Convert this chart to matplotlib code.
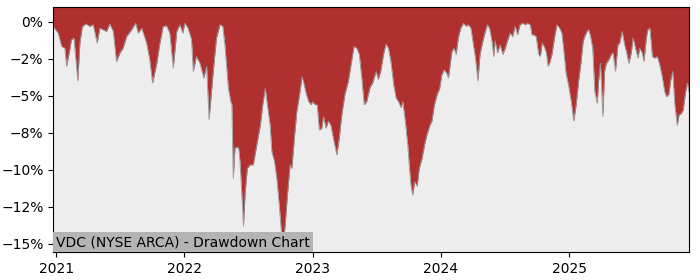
import pandas as pd
import matplotlib
matplotlib.use("Agg")
import matplotlib.pyplot as plt
import matplotlib.dates as mdates
from matplotlib.ticker import PercentFormatter, MultipleLocator

# drawdown (%)
dates = [
    "2020-12-23", "2020-12-26", "2021-01-06", "2021-01-16", "2021-01-25", "2021-01-30",
    "2021-02-08", "2021-02-13", "2021-02-20", "2021-02-25", "2021-03-03", "2021-03-09",
    "2021-03-16", "2021-03-26", "2021-04-06", "2021-04-16", "2021-04-27", "2021-05-05",
    "2021-05-14", "2021-05-24", "2021-06-02", "2021-06-12", "2021-06-21", "2021-07-01",
    "2021-07-10", "2021-07-20", "2021-08-03", "2021-08-15", "2021-08-22", "2021-09-01",
    "2021-09-15", "2021-09-24", "2021-10-02", "2021-10-14", "2021-10-23", "2021-11-01",
    "2021-11-11", "2021-11-20", "2021-11-30", "2021-12-10", "2021-12-19", "2021-12-27",
    "2022-01-02", "2022-01-11", "2022-01-21", "2022-01-26", "2022-02-04", "2022-02-14",
    "2022-02-25", "2022-03-05", "2022-03-12", "2022-03-24", "2022-04-02", "2022-04-12",
    "2022-04-20", "2022-04-26", "2022-05-06", "2022-05-13", "2022-05-16", "2022-05-20",
    "2022-05-25", "2022-06-04", "2022-06-08", "2022-06-13", "2022-06-18", "2022-06-23",
    "2022-06-29", "2022-07-07", "2022-07-16", "2022-07-26", "2022-08-05", "2022-08-12",
    "2022-08-19", "2022-08-25", "2022-09-02", "2022-09-07", "2022-09-14", "2022-09-21",
    "2022-09-28", "2022-10-04", "2022-10-08", "2022-10-15", "2022-10-22", "2022-10-29",
    "2022-11-03", "2022-11-10", "2022-11-17", "2022-11-25", "2022-12-02", "2022-12-08",
    "2022-12-14", "2022-12-21", "2022-12-28", "2023-01-01", "2023-01-08", "2023-01-14",
    "2023-01-20", "2023-01-27", "2023-02-01", "2023-02-08", "2023-02-15", "2023-02-22",
    "2023-03-01", "2023-03-11", "2023-03-18", "2023-03-25", "2023-04-03", "2023-04-13",
    "2023-04-22", "2023-04-29", "2023-05-07", "2023-05-14", "2023-05-21", "2023-05-28",
    "2023-06-04", "2023-06-14", "2023-06-21", "2023-07-01", "2023-07-07", "2023-07-14",
    "2023-07-22", "2023-07-29", "2023-08-05", "2023-08-12", "2023-08-20", "2023-08-27",
    "2023-09-03", "2023-09-10", "2023-09-15", "2023-09-22", "2023-09-29", "2023-10-04",
    "2023-10-08", "2023-10-13", "2023-10-19", "2023-10-26", "2023-11-01", "2023-11-09",
    "2023-11-16", "2023-11-23", "2023-12-01", "2023-12-07", "2023-12-14", "2023-12-22",
    "2023-12-29", "2024-01-04", "2024-01-11", "2024-01-18", "2024-01-23", "2024-01-30",
    "2024-02-02", "2024-02-08", "2024-02-14", "2024-02-20", "2024-02-27", "2024-03-06",
    "2024-03-13", "2024-03-20", "2024-03-27", "2024-04-03", "2024-04-09", "2024-04-16",
    "2024-04-22", "2024-04-30", "2024-05-07", "2024-05-13", "2024-05-19", "2024-05-26",
    "2024-05-31", "2024-06-04", "2024-06-11", "2024-06-18", "2024-06-26", "2024-07-03",
    "2024-07-09", "2024-07-17", "2024-07-24", "2024-07-31", "2024-08-07", "2024-08-14",
    "2024-08-22", "2024-08-29", "2024-09-04", "2024-09-12", "2024-09-17", "2024-09-23",
    "2024-09-29", "2024-10-06", "2024-10-11", "2024-10-16", "2024-10-22", "2024-10-28",
    "2024-11-02", "2024-11-06", "2024-11-13", "2024-11-20", "2024-11-27", "2024-12-05",
    "2024-12-11", "2024-12-16", "2024-12-23", "2024-12-30", "2025-01-07", "2025-01-14",
    "2025-01-21", "2025-01-28", "2025-02-04", "2025-02-10", "2025-02-16", "2025-02-21",
    "2025-02-26", "2025-03-03", "2025-03-09", "2025-03-15", "2025-03-22", "2025-03-26",
    "2025-03-31", "2025-04-03", "2025-04-07", "2025-04-12", "2025-04-17", "2025-04-24",
    "2025-05-01", "2025-05-06", "2025-05-13", "2025-05-20", "2025-05-25", "2025-06-01",
    "2025-06-08", "2025-06-13", "2025-06-20", "2025-06-27", "2025-07-02", "2025-07-09",
    "2025-07-16", "2025-07-21", "2025-07-28", "2025-08-02", "2025-08-09", "2025-08-13",
    "2025-08-19", "2025-08-26", "2025-09-01", "2025-09-09", "2025-09-16", "2025-09-23",
    "2025-09-30", "2025-10-05", "2025-10-12", "2025-10-17", "2025-10-23", "2025-10-29",
    "2025-11-05", "2025-11-10", "2025-11-16", "2025-11-22", "2025-11-29", "2025-12-04",
    "2025-12-08",
]
drawdown = [
    -0.2, -0.43, -0.76, -1.67, -1.78, -3.0,
    -1.9, -1.2, -1.1, -2.45, -4.0, -1.44,
    -0.32, -0.14, -0.3, -0.2, -1.44, -0.43,
    -0.54, -0.65, -0.14, -0.65, -2.68, -2.1,
    -1.78, -1.0, -0.54, -0.09, -0.76, -0.43,
    -1.44, -2.57, -4.14, -2.8, -1.44, -0.32,
    -0.27, -0.76, -3.13, -0.65, -0.2, -0.76,
    -0.09, -0.43, -1.2, -3.35, -2.34, -2.8,
    -3.8, -3.0, -6.6, -3.35, -1.1, -0.2,
    -0.3, -1.55, -4.5, -5.4, -5.6, -10.56,
    -8.5, -8.5, -9.4, -11.5, -13.8, -11.5,
    -9.9, -9.66, -9.66, -8.3, -7.0, -5.6,
    -4.5, -5.6, -7.0, -8.8, -9.4, -10.6,
    -12.4, -14.2, -15.4, -13.7, -11.5, -9.66,
    -9.9, -7.86, -6.06, -4.9, -3.7, -4.26,
    -4.9, -5.4, -5.6, -5.4, -5.6, -5.6,
    -7.3, -7.2, -6.4, -7.2, -6.7, -7.0,
    -7.86, -9.0, -7.86, -6.3, -4.9, -4.0,
    -2.68, -1.67, -1.78, -2.2, -3.8, -5.6,
    -5.4, -4.4, -4.14, -3.35, -3.9, -3.35,
    -2.2, -1.5, -1.78, -2.68, -4.26, -5.16,
    -5.4, -5.8, -5.4, -6.7, -8.3, -9.9,
    -11.0, -11.7, -10.8, -11.1, -9.9, -9.2,
    -8.3, -7.6, -7.0, -6.7, -5.6, -4.9,
    -4.5, -3.58, -3.24, -3.47, -3.8, -2.5,
    -2.0, -1.78, -2.2, -1.1, -0.43, -0.09,
    -0.3, -0.2, -0.43, -1.55, -2.45, -4.0,
    -2.2, -1.3, -0.65, -0.2, -0.43, -1.3,
    -2.34, -1.3, -2.1, -1.55, -2.2, -1.78,
    -1.3, -0.76, -1.0, -0.3, -0.88, -0.2,
    -0.09, -0.2, -0.09, -0.2, -0.88, -0.88,
    -1.0, -2.2, -2.34, -1.44, -1.67, -2.1,
    -3.0, -2.8, -2.2, -1.1, -0.2, -0.43,
    -0.76, -1.78, -3.47, -4.26, -5.4, -6.7,
    -5.6, -4.0, -2.68, -1.3, -0.88, -0.65,
    -0.54, -1.0, -1.78, -4.7, -5.5, -4.0,
    -2.8, -4.26, -6.4, -3.35, -2.8, -2.57,
    -2.2, -2.1, -3.35, -1.55, -1.44, -0.65,
    -1.55, -2.0, -2.8, -2.1, -1.1, -1.78,
    -2.45, -1.78, -2.1, -2.68, -1.1, -0.54,
    -0.43, -2.34, -2.45, -2.34, -2.9, -3.7,
    -4.7, -5.05, -4.9, -4.0, -3.35, -5.6,
    -7.0, -6.3, -6.2, -5.95, -4.7, -4.14,
    -4.7,
]
title = "VDC (NYSE ARCA) - Drawdown Chart"

x = pd.to_datetime(dates)
y_top, y_bottom = 1.0, -15.55

fig = plt.figure(figsize=(7, 2.8), dpi=100)
ax = fig.add_axes([0.076, 0.1, 0.908, 0.875])
ax.set_facecolor("#ededed")

ax.fill_between(x, drawdown, y_top, color="#b03030", linewidth=0)
ax.plot(x, drawdown, color="#999999", linewidth=0.6)

ax.set_xlim(x[0], x[-1])
ax.set_ylim(y_bottom, y_top)
ax.yaxis.set_major_locator(MultipleLocator(2.5))
ax.yaxis.set_major_formatter(PercentFormatter(xmax=100, decimals=0))
ax.xaxis.set_major_locator(mdates.YearLocator())
ax.xaxis.set_major_formatter(mdates.DateFormatter("%Y"))

# label box sits flush with the lower-left corner of the axes
ax.annotate(title, xy=(0, 0), xycoords="axes fraction",
            xytext=(3, 3), textcoords="offset pixels", ha="left", va="bottom",
            fontsize=10, bbox=dict(facecolor="#b4b4b4", edgecolor="none", pad=2))

fig.savefig("out.png", dpi=100)
